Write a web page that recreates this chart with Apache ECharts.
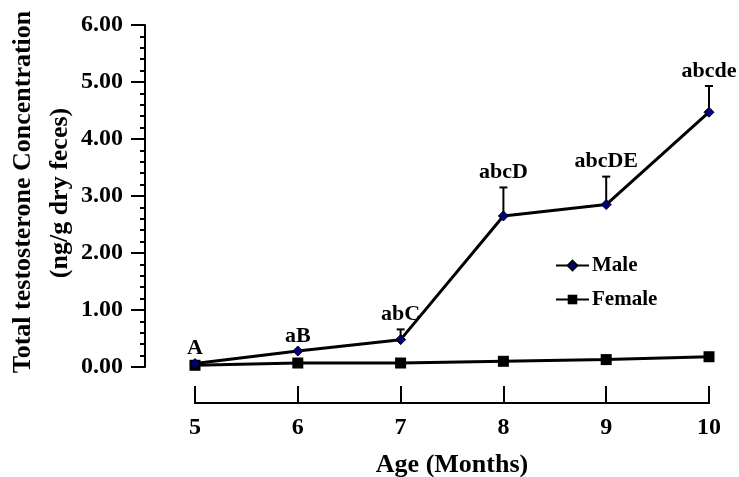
<!DOCTYPE html>
<html>
<head>
<meta charset="utf-8">
<script src="https://cdn.jsdelivr.net/npm/echarts@6/dist/echarts.min.js"></script>
<style>html,body{margin:0;padding:0;background:#fff}#c{width:739px;height:477px}</style>
</head>
<body>
<div id="c"></div>
<script>
const months = [5, 6, 7, 8, 9, 10];
const male = [0.06, 0.28, 0.48, 2.65, 2.85, 4.47];
const maleErr = [0, 0, 0.18, 0.50, 0.49, 0.46];
const female = [0.03, 0.07, 0.07, 0.10, 0.13, 0.18];
const sigLabels = ['A', 'aB', 'abC', 'abcD', 'abcDE', 'abcde'];
const yTitle1 = 'Total testosterone Concentration';
const yTitle2 = '(ng/g dry feces)';
const xTitle = 'Age (Months)';

const FONT = '"Liberation Serif", "Times New Roman", serif';
const X_OFFSET = 36;
const chart = echarts.init(document.getElementById('c'));
chart.setOption({
  animation: false,
  backgroundColor: '#fff',
  grid: { left: 195, right: 30, top: 25, bottom: 110, containLabel: false, outerBoundsMode: 'none' },
  xAxis: {
    type: 'value', min: 5, max: 10, interval: 1, offset: X_OFFSET,
    name: xTitle, nameLocation: 'middle', nameGap: 49,
    nameTextStyle: { fontFamily: FONT, fontWeight: 'bold', fontSize: 26, color: '#000' },
    axisLine: { show: false, onZero: false },
    axisTick: { show: true, inside: true, length: 17, lineStyle: { color: '#000', width: 2 } },
    axisLabel: { margin: 13, fontFamily: FONT, fontWeight: 'bold', fontSize: 24, color: '#000' },
    splitLine: { show: false }
  },
  yAxis: {
    type: 'value', min: 0, max: 6, interval: 1, offset: 50,
    axisLine: { show: true, onZero: false, lineStyle: { color: '#000', width: 2 } },
    axisTick: { show: true, length: 14, lineStyle: { color: '#000', width: 2 } },
    minorTick: { show: true, splitNumber: 5, length: 5, lineStyle: { color: '#000', width: 2 } },
    axisLabel: { margin: 22, fontFamily: FONT, fontWeight: 'bold', fontSize: 24, color: '#000',
      formatter: v => v.toFixed(2) },
    splitLine: { show: false }
  },
  legend: {
    orient: 'vertical', left: 555, top: 255, padding: 0, itemWidth: 33, itemHeight: 12, itemGap: 13,
    textStyle: { fontFamily: FONT, fontWeight: 'bold', fontSize: 21, color: '#000', padding: [0, 0, 0, -2] },
    data: ['Male', 'Female']
  },
  graphic: [
    { type: 'text', x: 23, y: 192, rotation: Math.PI / 2,
      style: { text: yTitle1, fontFamily: FONT, fontWeight: 'bold', fontSize: 26, fill: '#000',
        align: 'center', verticalAlign: 'middle' } },
    { type: 'text', x: 60, y: 193, rotation: Math.PI / 2,
      style: { text: yTitle2, fontFamily: FONT, fontWeight: 'bold', fontSize: 26, fill: '#000',
        align: 'center', verticalAlign: 'middle' } }
  ],
  series: [
    {
      name: 'Female', type: 'line', z: 3,
      data: months.map((m, i) => [m, female[i]]),
      symbol: 'rect', symbolSize: 11,
      lineStyle: { color: '#000', width: 3 },
      itemStyle: { color: '#000' }
    },
    {
      name: 'Male', type: 'line', z: 4,
      data: months.map((m, i) => [m, male[i]]),
      symbol: 'diamond', symbolSize: 10,
      lineStyle: { color: '#000', width: 3 },
      itemStyle: { color: '#00007a', borderColor: '#000', borderWidth: 1 }
    },
    {
      name: 'err', type: 'custom', z: 2, clip: false,
      data: months.map((m, i) => [m, male[i], maleErr[i]]),
      renderItem: function (params, api) {
        const x = api.value(0), y = api.value(1), e = api.value(2);
        const p = api.coord([x, y]);
        const t = api.coord([x, y + e]);
        const children = [];
        if (params.dataIndex === 0) {
          const a = api.coord([months[0], 0]);
          const b = api.coord([months[months.length - 1], 0]);
          const yb = a[1] + X_OFFSET;
          children.push({ type: 'line', shape: { x1: a[0], y1: yb, x2: b[0], y2: yb },
            style: { stroke: '#000', lineWidth: 2, lineCap: 'square' } });
        }
        if (e > 0) {
          children.push({ type: 'line', shape: { x1: p[0], y1: p[1], x2: t[0], y2: t[1] },
            style: { stroke: '#000', lineWidth: 2 } });
          children.push({ type: 'line', shape: { x1: t[0] - 4, y1: t[1], x2: t[0] + 4, y2: t[1] },
            style: { stroke: '#000', lineWidth: 2 } });
        }
        children.push({ type: 'text', x: t[0], y: t[1] - 15,
          style: { text: sigLabels[params.dataIndex], fontFamily: FONT, fontWeight: 'bold',
            fontSize: 22, fill: '#000', align: 'center', verticalAlign: 'middle' } });
        return { type: 'group', children: children };
      }
    }
  ]
});
</script>
</body>
</html>
